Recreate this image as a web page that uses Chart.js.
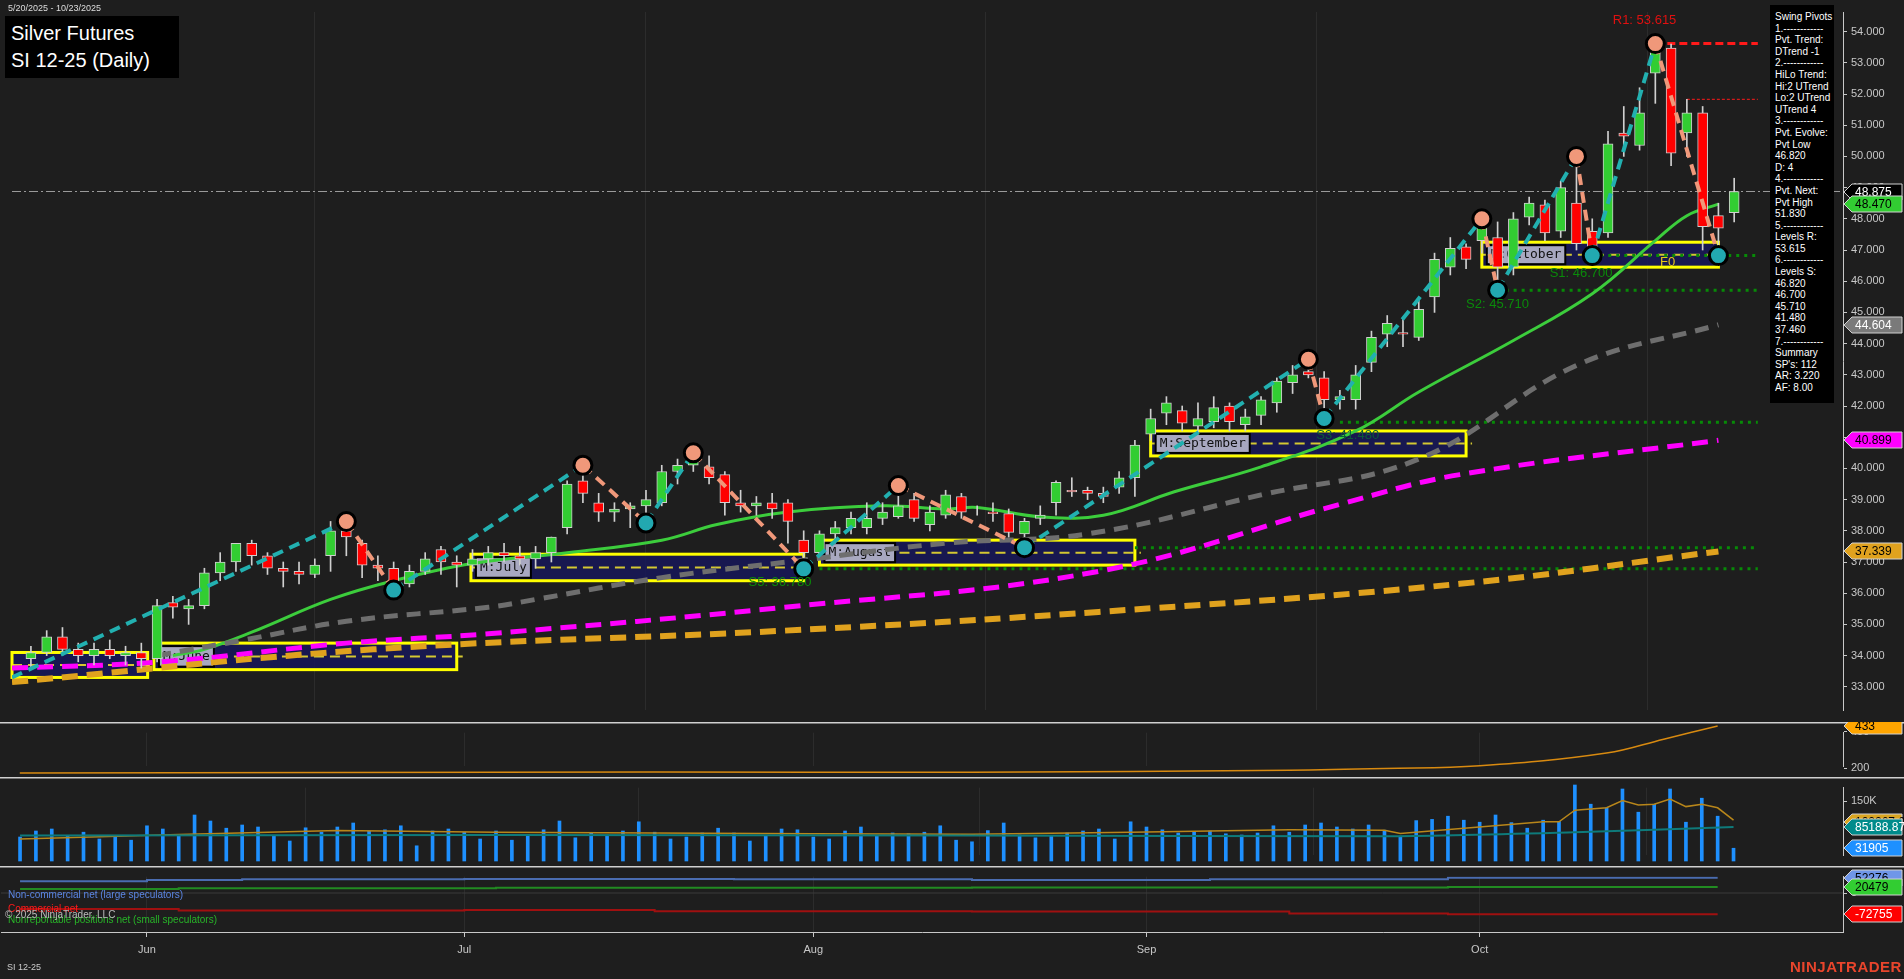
<!DOCTYPE html>
<html>
<head>
<meta charset="utf-8">
<script src="https://cdn.jsdelivr.net/npm/chart.js@4.4.1/dist/chart.umd.min.js"></script>
<style>
  body { margin: 0; background: #1e1e1e; width: 1904px; height: 979px; overflow: hidden; font-family: Arial, "Liberation Sans", sans-serif; }
  canvas { position: absolute; left: 0; }
  .txt { position: absolute; white-space: nowrap; }
  #title { left: 5px; top: 16px; width: 174px; height: 62px; background: #000; color: #fff; font-size: 20px; line-height: 27px; padding: 4px 0 0 6px; box-sizing: border-box; }
  #info { left: 1770px; top: 5px; width: 64px; height: 398px; background: #000; color: #fff; font-size: 10px; line-height: 11.6px; padding: 6px 0 0 5px; box-sizing: border-box; }
</style>
</head>
<body>
<canvas id="c1" width="1904" height="722" style="top:0"></canvas>
<canvas id="c2" width="1904" height="55" style="top:722px"></canvas>
<canvas id="c3" width="1904" height="89" style="top:777px"></canvas>
<canvas id="c4" width="1904" height="113" style="top:866px"></canvas>

<div class="txt" style="left:8px;top:3px;font-size:9px;color:#ddd">5/20/2025 - 10/23/2025</div>
<div class="txt" id="title">Silver Futures<br>SI 12-25 (Daily)</div>
<div class="txt" id="info"></div>
<div class="txt" style="left:8px;top:889px;font-size:10px;color:#5b86e5">Non-commercial net (large speculators)</div>
<div class="txt" style="left:8px;top:903px;font-size:10px;color:#ff1a1a">Commercial net</div>
<div class="txt" style="left:8px;top:914px;font-size:10px;color:#28b428">Nonreportable positions net (small speculators)</div>
<div class="txt" style="left:5px;top:909px;font-size:10px;color:#bbb">© 2025 NinjaTrader, LLC</div>
<div class="txt" style="left:7px;top:962px;font-size:9px;color:#ccc">SI 12-25</div>
<div class="txt" style="left:1790px;top:958px;font-size:15px;font-weight:bold;color:#e8452c;letter-spacing:0.5px">NINJATRADER</div>

<script>
// daily bars 5/20/2025 .. 10/23/2025, index 0..108
const open = [
  33.9, 34.1, 34.6, 34.2, 34.0, 34.2, 34.0, 34.1, 33.9, 35.7,
  35.5, 35.6, 36.65, 37.0, 37.6, 37.2, 36.8, 36.7, 36.6, 37.2,
  38.0, 37.6, 36.9, 36.8, 36.3, 36.7, 37.4, 37.0, 36.9, 37.1,
  37.3, 37.2, 37.1, 37.3, 38.1, 39.6, 38.9, 38.6, 38.7, 38.8,
  38.9, 39.9, 40.1, 40.05, 39.8, 38.9, 38.8, 38.9, 38.9, 37.7,
  37.3, 37.9, 38.1, 38.1, 38.4, 38.45, 39.0, 38.2, 38.5, 39.1,
  38.6, 38.6, 38.55, 37.9, 38.4, 38.9, 39.3, 39.3, 39.2, 39.4,
  39.7, 41.1, 41.77, 41.85, 41.35, 41.5, 42.0, 41.4, 41.7, 42.1,
  42.75, 43.1, 42.9, 42.2, 42.2, 43.4, 44.3, 44.35, 44.2, 45.5,
  46.45, 47.1, 47.3, 47.4, 46.45, 48.05, 48.45, 47.6, 48.5, 47.6,
  47.55, 50.75, 50.35, 52.67, 53.47, 50.75, 51.4, 48.1, 48.2
];
const high = [
  34.3, 34.8, 34.9, 34.4, 34.4, 34.5, 34.3, 34.4, 35.8, 35.9,
  35.8, 36.8, 37.3, 37.6, 37.7, 37.3, 37.0, 37.0, 37.1, 38.3,
  38.3, 37.7, 37.2, 37.0, 36.9, 37.3, 37.5, 37.2, 37.4, 37.5,
  37.6, 37.5, 37.5, 37.8, 39.6, 40.1, 39.2, 38.9, 38.9, 39.3,
  40.1, 40.3, 40.5, 40.4, 39.9, 39.3, 39.1, 39.2, 39.0, 38.0,
  38.0, 38.3, 38.6, 38.9, 38.9, 39.45, 39.2, 38.8, 39.3, 39.2,
  38.8, 38.9, 38.7, 38.4, 38.8, 39.6, 39.7, 39.4, 39.4, 39.9,
  40.9, 41.9, 42.3, 42.0, 42.1, 42.3, 42.1, 41.9, 42.3, 42.9,
  43.3, 43.5, 43.1, 42.5, 43.3, 44.4, 44.9, 44.8, 45.4, 46.9,
  47.4, 47.2, 48.0, 47.9, 48.2, 48.7, 48.6, 49.2, 50.0, 48.0,
  50.8, 51.6, 52.2, 53.615, 53.6, 51.83, 51.6, 48.5, 49.3
];
const low = [
  33.6, 34.0, 34.0, 33.8, 33.7, 33.9, 33.7, 33.6, 33.8, 35.2,
  35.0, 35.5, 36.4, 36.7, 36.9, 36.6, 36.2, 36.3, 36.5, 36.7,
  37.2, 36.5, 36.4, 36.1, 36.2, 36.6, 36.6, 36.2, 36.7, 36.9,
  37.0, 36.9, 36.8, 37.0, 37.9, 38.9, 38.3, 38.3, 38.1, 38.25,
  38.8, 39.5, 39.9, 39.5, 38.5, 38.6, 38.5, 38.4, 37.6, 36.78,
  37.2, 37.6, 37.9, 37.9, 38.2, 38.4, 38.3, 38.0, 38.4, 38.4,
  38.5, 38.3, 37.8, 37.46, 38.2, 38.5, 39.1, 39.0, 38.9, 39.2,
  39.1, 40.9, 41.4, 41.2, 41.1, 41.3, 41.2, 41.2, 41.4, 41.8,
  42.4, 42.9, 41.6, 41.9, 41.9, 43.1, 43.9, 43.9, 44.1, 45.0,
  46.2, 46.4, 46.9, 45.71, 46.2, 47.8, 47.3, 47.4, 47.0, 46.82,
  47.4, 50.0, 50.2, 51.7, 49.7, 50.0, 47.0, 46.82, 47.9
];
const close = [
  34.1, 34.6, 34.2, 34.0, 34.2, 34.0, 34.1, 33.9, 35.6, 35.55,
  35.6, 36.65, 37.0, 37.6, 37.2, 36.8, 36.7, 36.6, 36.9, 38.0,
  37.8, 36.9, 36.8, 36.3, 36.7, 37.1, 37.0, 36.9, 37.1, 37.3,
  37.2, 37.1, 37.3, 37.8, 39.5, 39.2, 38.6, 38.7, 38.8, 39.0,
  39.9, 40.1, 40.3, 39.7, 38.9, 38.8, 38.9, 38.7, 38.3, 37.3,
  37.9, 38.1, 38.4, 38.4, 38.6, 38.8, 38.4, 38.6, 39.15, 38.6,
  38.6, 38.55, 37.95, 38.3, 38.5, 39.55, 39.25, 39.2, 39.1, 39.7,
  40.75, 41.6, 42.1, 41.45, 41.6, 41.95, 41.5, 41.65, 42.2, 42.8,
  43.0, 43.0, 42.2, 42.3, 43.0, 44.2, 44.65, 44.3, 45.1, 46.7,
  47.05, 46.7, 47.95, 46.45, 48.0, 48.5, 47.55, 49.0, 47.2, 47.1,
  50.4, 50.65, 51.4, 53.5, 50.1, 51.4, 47.75, 47.7, 48.875
];
const volumeK = [
  60, 75, 80, 62, 72, 55, 60, 52,
  88, 80, 62, 115, 100, 82, 90, 85, 62, 50, 83, 72, 85, 95, 75, 78, 88, 38, 75, 80,
  72, 55, 75, 52, 62, 78, 100, 58, 70, 65, 75, 98, 72, 55, 60, 70, 82, 70, 50, 62, 80, 78,
  60, 55, 75, 85, 62, 70, 68, 72, 88, 52, 48, 76, 95, 65, 58, 62, 70, 75, 80, 55, 98,
  85, 78, 70, 72, 75, 68, 65, 70, 88, 72, 90, 95, 85, 80, 90,
  77, 62, 101, 104, 112, 102, 97, 115, 96, 82, 102, 99, 190, 142, 133, 180, 122, 142, 180, 97, 157, 112, 31.905
];
// indicator readings [bar index, value]
const ema20 = [[9,34.0],[11,34.2],[14,34.75],[19,35.8],[23,36.4],[28,36.95],[34,37.3],[40,37.7],[43.5,38.2],[48,38.6],[54,38.8],[58,38.7],[60,38.75],[64,38.45],[68,38.5],[72.5,39.25],[78,40.05],[84,41.2],[88,42.45],[94,44.1],[99,45.6],[103,47.3],[105,48.1],[107,48.47]];
const sma50 = [[8,34.0],[13.5,34.5],[20,35.1],[29,35.55],[32,35.8],[40,36.5],[48.8,37.05],[58,37.6],[67,37.9],[78,39.15],[88,40.3],[98,43.3],[107,44.604]];
const sma100 = [[-1.2,33.6],[8.3,33.8],[20,34.4],[29,34.7],[47.8,35.55],[67.7,36.7],[83,38.85],[90.6,39.8],[107,40.899]];
const sma200 = [[-1.2,33.15],[21.7,34.2],[47.8,34.8],[67.7,35.4],[90.6,36.3],[107,37.339]];
const swingPivots = [[-1.2,33.3],[20,38.3],[23,36.1],[35,40.1],[39,38.25],[42,40.5],[49,36.78],[55,39.45],[63,37.46],[81,43.5],[82,41.6],[92,48.0],[93,45.71],[98,50.0],[99,46.82],[103,53.615],[107,46.82]];
const levelLines = [
  { v: 53.615, from: 103, kind: 'r' }, { v: 51.83, from: 105, kind: 'r2' },
  { v: 46.82, from: 99, kind: 's' }, { v: 45.71, from: 93, kind: 's' },
  { v: 41.48, from: 83, kind: 's' }, { v: 37.46, from: 70, kind: 's' }, { v: 36.78, from: 50, kind: 's' }
];
const levelTexts = [
  { x: 100.3, y: 54.35, t: 'R1: 53.615', c: '#e01010' }, { x: 96.3, y: 46.25, t: 'S1: 46.700', c: '#0a8a0a' },
  { x: 91.0, y: 45.25, t: 'S2: 45.710', c: '#0a8a0a' }, { x: 81.5, y: 41.05, t: 'S3: 41.480', c: '#0a5a3a' },
  { x: 45.5, y: 36.35, t: 'S5: 36.780', c: '#0a8a0a' }, { x: 103.3, y: 46.6, t: 'F0', c: '#e6c619' }
];
const monthBoxes = [
  { a: -1.2, b: 7.4, hi: 34.1, lo: 33.3, t: '' }, { a: 7.8, b: 27, hi: 34.4, lo: 33.55, t: 'M:June' },
  { a: 27.9, b: 49, hi: 37.25, lo: 36.4, t: 'M:July' }, { a: 50, b: 70, hi: 37.7, lo: 36.9, t: 'M:August' },
  { a: 71, b: 91, hi: 41.2, lo: 40.4, t: 'M:September' }, { a: 92, b: 107, hi: 47.25, lo: 46.45, t: 'M:October' }
];
const atrLine = [[0,172],[20,175],[40,178],[60,177],[80,188],[86,197],[92,212],[100,283],[103.6,360],[107,433]];
const volAvg = [[0,55],[10,66],[20,76],[30,72],[40,70],[50,68],[60,67],[70,72],[80,78],[86,77],[87,69],[96,98],[97,98],[98,127],[100,133],[101,151],[102,140],[103,142],[104,155],[105,136],[106,142],[107,133],[108,102]];
const volBase = [[0,64],[30,65],[60,64],[86,62],[98,72],[108,85.19]];
const cotLarge = [[0,40000],[8,44000],[14,47000],[28,48000],[45,47000],[60,44000],[75,47000],[90,52276],[107,52276]];
const cotSmall = [[0,14000],[10,16000],[30,18000],[60,19000],[90,20479],[107,20479]];
const cotComm = [[0,-55000],[10,-60000],[28,-58000],[40,-62000],[60,-63000],[80,-70000],[90,-72755],[107,-72755]];
const monthTicks = [[8,'Jun'],[28,'Jul'],[50,'Aug'],[71,'Sep'],[92,'Oct']];
const infoLines = ['Swing Pivots','1.------------','Pvt. Trend:','DTrend -1','2.------------','HiLo Trend:','Hi:2 UTrend','Lo:2 UTrend','UTrend 4','3.------------','Pvt. Evolve:','Pvt Low','46.820','D: 4','4.------------','Pvt. Next:','Pvt High','51.830','5.------------','Levels R:','53.615','6.------------','Levels S:','46.820','46.700','45.710','41.480','37.460','7.------------','Summary',"SP's: 112",'AR: 3.220','AF: 8.00'];
document.getElementById('info').innerHTML = infoLines.join('<br>');

const X_MIN = -1.2, X_MAX = 114.9, AXIS_W = 61;
const pts = a => a.map(p => ({ x: p[0], y: p[1] }));
const idx = open.map((_, i) => i);

function xScale(showTicks) {
  return {
    type: 'linear', min: X_MIN, max: X_MAX, offset: false,
    display: true,
    afterBuildTicks: s => { s.ticks = monthTicks.map(m => ({ value: m[0] })); },
    afterFit: s => { s.height = showTicks ? 47 : 0; },
    ticks: { display: showTicks, color: '#c8c8c8', font: { size: 11 }, padding: 6, maxRotation: 0,
      callback: v => (monthTicks.find(m => m[0] === v) || [0, ''])[1] },
    grid: { color: '#2c2c2c', drawTicks: showTicks, tickLength: 5, tickColor: '#c8c8c8' },
    border: { display: showTicks, color: '#c8c8c8' }
  };
}
function yScale(min, max, tickVals, fmt) {
  return {
    position: 'right', min, max,
    afterBuildTicks: s => { s.ticks = tickVals.map(v => ({ value: v })); },
    afterFit: s => { s.width = AXIS_W; },
    ticks: { color: '#c8c8c8', font: { size: 11 }, padding: 4, callback: fmt },
    grid: { drawOnChartArea: false, tickLength: 4, tickColor: '#c8c8c8' },
    border: { color: '#c8c8c8' }
  };
}
// re-fit y range so two values land on the wanted canvas rows
function pinY(chart, v1, y1, v2, y2) {
  const k = (v2 - v1) / (y2 - y1);
  const a = chart.chartArea;
  chart.options.scales.y.max = v1 + (a.top - y1) * k;
  chart.options.scales.y.min = v1 + (a.bottom - y1) * k;
  chart.update('none');
}
function tagPlugin(tags, withSep) {
  return {
    id: 'tags',
    afterDraw(chart) {
      const ctx = chart.ctx, ys = chart.scales.y, x0 = chart.chartArea.right;
      if (withSep) {
        ctx.save(); ctx.strokeStyle = '#d0d0d0'; ctx.lineWidth = 1.5;
        ctx.beginPath(); ctx.moveTo(0, 0.75); ctx.lineTo(chart.width, 0.75); ctx.stroke(); ctx.restore();
      }
      tags.forEach(t => {
        const y = Math.round(ys.getPixelForValue(t.v));
        ctx.save();
        ctx.beginPath();
        ctx.moveTo(x0 + 1, y); ctx.lineTo(x0 + 9, y - 8); ctx.lineTo(1902, y - 8);
        ctx.lineTo(1902, y + 8); ctx.lineTo(x0 + 9, y + 8); ctx.closePath();
        ctx.fillStyle = t.bg; ctx.fill();
        ctx.strokeStyle = t.border || '#d0d0d0'; ctx.lineWidth = 1; ctx.stroke();
        ctx.fillStyle = t.fg; ctx.font = '12px Arial'; ctx.textBaseline = 'middle'; ctx.textAlign = 'left';
        ctx.fillText(t.text, x0 + 12, y + 1);
        ctx.restore();
      });
    }
  };
}
const base = { responsive: false, animation: false, devicePixelRatio: 1, layout: { padding: 0 },
  plugins: { legend: { display: false }, tooltip: { enabled: false } } };

// ---------- price panel ----------
const annot = {
  id: 'annot',
  beforeDatasetsDraw(chart) {
    const ctx = chart.ctx, xs = chart.scales.x, ys = chart.scales.y;
    monthBoxes.forEach(b => {
      const x1 = xs.getPixelForValue(b.a), x2 = xs.getPixelForValue(b.b);
      const y1 = ys.getPixelForValue(b.hi), y2 = ys.getPixelForValue(b.lo);
      ctx.save();
      ctx.fillStyle = 'rgba(24,24,88,0.88)'; ctx.fillRect(x1, y1, x2 - x1, y2 - y1);
      ctx.strokeStyle = '#d4c832'; ctx.lineWidth = 2; ctx.setLineDash([10, 6]);
      ctx.beginPath(); ctx.moveTo(x1, (y1 + y2) / 2); ctx.lineTo(x2 + 6, (y1 + y2) / 2); ctx.stroke();
      ctx.setLineDash([]); ctx.strokeStyle = '#ffff00'; ctx.lineWidth = 3; ctx.strokeRect(x1, y1, x2 - x1, y2 - y1);
      if (b.t) {
        ctx.font = '13px "DejaVu Sans Mono", monospace';
        const w = ctx.measureText(b.t).width + 8;
        ctx.fillStyle = '#a8a8c0'; ctx.fillRect(x1 + 5, y1 + 3, w, y2 - y1 - 6);
        ctx.strokeStyle = '#000'; ctx.lineWidth = 2; ctx.strokeRect(x1 + 5, y1 + 3, w, y2 - y1 - 6);
        ctx.fillStyle = '#111'; ctx.textBaseline = 'middle'; ctx.fillText(b.t, x1 + 9, (y1 + y2) / 2);
      }
      ctx.restore();
    });
  },
  afterDatasetsDraw(chart) {
    const ctx = chart.ctx, xs = chart.scales.x, ys = chart.scales.y;
    ctx.save(); ctx.font = '13px Arial'; ctx.textBaseline = 'middle';
    levelTexts.forEach(l => { ctx.fillStyle = l.c; ctx.fillText(l.t, xs.getPixelForValue(l.x), ys.getPixelForValue(l.y)); });
    ctx.restore();
  }
};
const candleColors = idx.map(i => close[i] >= open[i] ? '#32cd32' : '#ff0000');
const levelSets = levelLines.map(l => ({
  type: 'line', data: [{ x: l.from, y: l.v }, { x: 109.5, y: l.v }], pointRadius: 0,
  borderColor: l.kind === 's' ? '#078a07' : '#ff1a1a', borderWidth: l.kind === 'r2' ? 1 : 3,
  borderDash: l.kind === 's' ? [3, 5] : (l.kind === 'r' ? [8, 4] : [3, 2]), order: 5
}));
const c1 = new Chart(document.getElementById('c1'), {
  data: { datasets: [
    ...levelSets,
    { type: 'line', data: [{ x: X_MIN, y: 48.875 }, { x: X_MAX, y: 48.875 }], borderColor: '#9a9a9a', borderWidth: 1, borderDash: [9, 3, 2, 3], pointRadius: 0, order: 6 },
    { type: 'line', data: pts(sma200), borderColor: '#e0a21e', borderWidth: 6, borderDash: [16, 9], pointRadius: 0, tension: 0.4, order: 4 },
    { type: 'line', data: pts(sma100), borderColor: '#ff00ff', borderWidth: 5, borderDash: [16, 9], pointRadius: 0, tension: 0.4, order: 4 },
    { type: 'line', data: pts(sma50), borderColor: '#6e6e6e', borderWidth: 5, borderDash: [14, 9], pointRadius: 0, tension: 0.4, order: 4 },
    { type: 'line', data: pts(ema20), borderColor: '#3ccd3c', borderWidth: 3, pointRadius: 0, tension: 0.4, order: 4 },
    { type: 'bar', data: idx.map(i => ({ x: i, y: [low[i], high[i]] })), backgroundColor: '#d0d0d0', barThickness: 1, grouped: false, order: 3 },
    { type: 'bar', data: idx.map(i => ({ x: i, y: [open[i], close[i]] })), backgroundColor: candleColors, borderColor: '#cfcfcf', borderWidth: 1, borderSkipped: false, barThickness: 10, grouped: false, order: 2 },
    { type: 'line', data: pts(swingPivots), borderWidth: 4, borderDash: [11, 7], tension: 0, order: 1,
      segment: { borderColor: c => c.p1.parsed.y > c.p0.parsed.y ? '#22b0b0' : '#f0987a' },
      pointRadius: c => c.dataIndex === 0 ? 0 : 9,
      pointBackgroundColor: c => { const d = swingPivots, i = c.dataIndex; return i > 0 && d[i][1] > d[i - 1][1] ? '#f0987a' : '#22a8b0'; },
      pointBorderColor: '#000', pointBorderWidth: 3 }
  ] },
  options: { ...base, scales: {
    x: xScale(false),
    y: yScale(31.87, 55.01, [33,34,35,36,37,38,39,40,41,42,43,44,45,46,47,48,49,50,51,52,53,54], v => v.toFixed(3))
  } },
  plugins: [annot, tagPlugin([
    { v: 48.875, text: '48.875', bg: '#000', fg: '#fff' },
    { v: 48.47, text: '48.470', bg: '#32cd32', fg: '#000' },
    { v: 44.604, text: '44.604', bg: '#7a7a7a', fg: '#fff' },
    { v: 40.899, text: '40.899', bg: '#ff00ff', fg: '#000' },
    { v: 37.339, text: '37.339', bg: '#e0a21e', fg: '#000' }
  ], false)]
});
pinY(c1, 54, 31.6, 33, 686.8);

// ---------- panel 2 ----------
const c2 = new Chart(document.getElementById('c2'), {
  data: { datasets: [{ type: 'line', data: pts(atrLine), borderColor: '#d88a10', borderWidth: 1.5, pointRadius: 0, tension: 0.4, clip: false }] },
  options: { ...base, scales: { x: xScale(false), y: yScale(150, 455, [200, 400], v => String(v)) } },
  plugins: [tagPlugin([{ v: 433, text: '433', bg: '#ffa500', fg: '#000' }], true)]
});
pinY(c2, 200, 46, 433, 4);

// ---------- volume ----------
const c3 = new Chart(document.getElementById('c3'), {
  data: { datasets: [
    { type: 'line', data: pts(volBase), borderColor: '#0e7a7a', borderWidth: 2, pointRadius: 0, tension: 0.3, clip: false },
    { type: 'line', data: pts(volAvg), borderColor: '#b8861a', borderWidth: 1.5, pointRadius: 0, tension: 0, clip: false },
    { type: 'bar', data: idx.map(i => ({ x: i, y: volumeK[i] })), backgroundColor: '#1e90ff', barThickness: 3, grouped: false, clip: false }
  ] },
  options: { ...base, scales: { x: xScale(false), y: yScale(-12.5, 210, [150], v => v + 'K') } },
  plugins: [tagPlugin([
    { v: 97, text: '102267.07', bg: '#daa520', fg: '#000' },
    { v: 85.19, text: '85188.87', bg: '#008b8b', fg: '#fff' },
    { v: 31.905, text: '31905', bg: '#1e90ff', fg: '#fff' }
  ], true)]
});
pinY(c3, 150, 24, 0, 84);

// ---------- COT ----------
const c4 = new Chart(document.getElementById('c4'), {
  data: { datasets: [
    { type: 'line', data: [{ x: X_MIN, y: 0 }, { x: X_MAX, y: 0 }], borderColor: '#3a3a3a', borderWidth: 1, pointRadius: 0 },
    { type: 'line', data: pts(cotLarge), borderColor: '#4a6cb0', borderWidth: 2, pointRadius: 0, stepped: true },
    { type: 'line', data: pts(cotSmall), borderColor: '#228b22', borderWidth: 2, pointRadius: 0, stepped: true },
    { type: 'line', data: pts(cotComm), borderColor: '#a01010', borderWidth: 2, pointRadius: 0, stepped: true }
  ] },
  options: { ...base, scales: { x: xScale(true), y: yScale(-133000, 92000, [0], v => String(v)) } },
  plugins: [tagPlugin([
    { v: 52276, text: '52276', bg: '#6f96e8', fg: '#000' },
    { v: 20479, text: '20479', bg: '#32cd32', fg: '#000' },
    { v: -72755, text: '-72755', bg: '#ff0000', fg: '#fff' }
  ], true)]
});
pinY(c4, 0, 27, 20479, 21);
</script>
</body>
</html>
